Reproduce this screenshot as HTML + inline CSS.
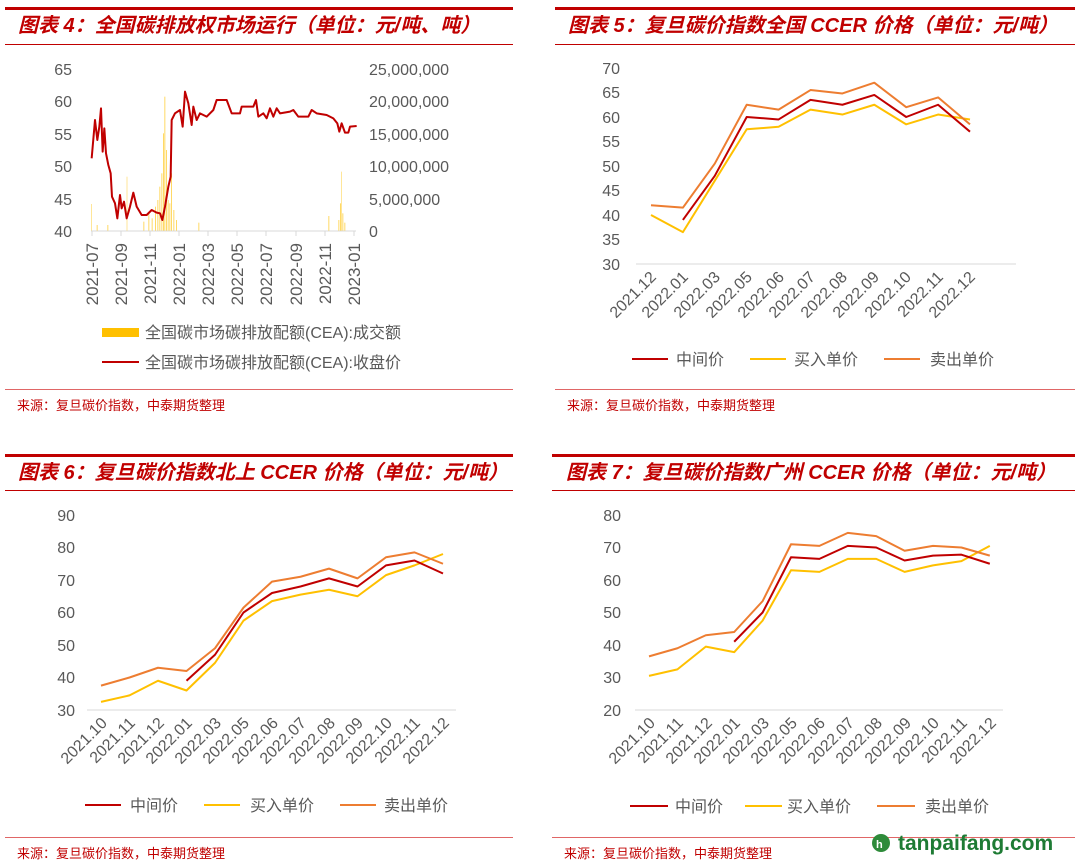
<!DOCTYPE html>
<html><head><meta charset="utf-8"><style>
body{margin:0;background:#fff;}
svg{display:block;font-family:"Liberation Sans","Noto Sans CJK SC",sans-serif;}
.t{font-weight:bold;font-style:italic;fill:#C00000;font-size:20px;}
.a{fill:#595959;font-size:16px;}
.l{fill:#595959;font-size:16px;}
.s{fill:#C00000;font-size:13px;}
.ln{fill:none;stroke-width:2;vector-effect:non-scaling-stroke;stroke-linejoin:round;}
</style></head><body>
<svg width="1080" height="862" viewBox="0 0 1080 862">
<!-- Panel 1 -->
<rect x="5" y="7" width="508" height="3" fill="#C00000"/>
<text x="18" y="32" class="t">图表 4：全国碳排放权市场运行（单位：元/吨、吨）</text>
<rect x="5" y="44" width="508" height="1" fill="#C00000"/>
<g class="a" text-anchor="end">
<text x="72" y="75">65</text><text x="72" y="107">60</text><text x="72" y="140">55</text><text x="72" y="172">50</text><text x="72" y="205">45</text><text x="72" y="237">40</text></g>
<g class="a"><text x="369" y="75">25,000,000</text><text x="369" y="107">20,000,000</text><text x="369" y="140">15,000,000</text><text x="369" y="172">10,000,000</text><text x="369" y="205">5,000,000</text><text x="369" y="237">0</text></g>
<line x1="91" y1="231" x2="356" y2="231" stroke="#d9d9d9" stroke-width="1"/>
<g stroke="#d9d9d9"><line x1="92" y1="231" x2="92" y2="236"/><line x1="121" y1="231" x2="121" y2="236"/><line x1="150" y1="231" x2="150" y2="236"/><line x1="179" y1="231" x2="179" y2="236"/><line x1="208" y1="231" x2="208" y2="236"/><line x1="237" y1="231" x2="237" y2="236"/><line x1="266" y1="231" x2="266" y2="236"/><line x1="296" y1="231" x2="296" y2="236"/><line x1="325" y1="231" x2="325" y2="236"/><line x1="354" y1="231" x2="354" y2="236"/></g>
<g class="a" text-anchor="end" style="font-size:17px">
<text transform="translate(98,243) rotate(-90)">2021-07</text>
<text transform="translate(127,243) rotate(-90)">2021-09</text>
<text transform="translate(156,243) rotate(-90)">2021-11</text>
<text transform="translate(185,243) rotate(-90)">2022-01</text>
<text transform="translate(214,243) rotate(-90)">2022-03</text>
<text transform="translate(243,243) rotate(-90)">2022-05</text>
<text transform="translate(272,243) rotate(-90)">2022-07</text>
<text transform="translate(302,243) rotate(-90)">2022-09</text>
<text transform="translate(331,243) rotate(-90)">2022-11</text>
<text transform="translate(360,243) rotate(-90)">2023-01</text></g>
<g transform="scale(0.33333)" fill="#FFD966">
<rect x="274" y="612" width="2" height="80"/><rect x="290" y="675" width="3" height="17"/><rect x="322" y="675" width="3" height="17"/><rect x="380" y="530" width="2" height="162"/><rect x="430" y="665" width="3" height="27"/>
<rect x="445" y="640" width="3" height="52"/><rect x="455" y="655" width="3" height="37"/><rect x="465" y="620" width="3" height="72"/><rect x="472" y="600" width="3" height="92"/><rect x="478" y="560" width="3" height="132"/>
<rect x="484" y="520" width="3" height="172"/><rect x="489" y="400" width="3" height="292"/><rect x="493" y="290" width="3" height="402"/><rect x="498" y="450" width="3" height="242"/><rect x="503" y="600" width="3" height="92"/>
<rect x="508" y="610" width="3" height="82"/><rect x="513" y="520" width="3" height="172"/><rect x="520" y="630" width="3" height="62"/><rect x="528" y="660" width="3" height="32"/><rect x="595" y="668" width="3" height="24"/>
<rect x="985" y="648" width="3" height="44"/><rect x="1015" y="660" width="3" height="32"/><rect x="1020" y="610" width="3" height="82"/><rect x="1023" y="515" width="2" height="177"/><rect x="1027" y="640" width="3" height="52"/><rect x="1033" y="668" width="3" height="24"/>
<polyline fill="none" stroke="#C00000" stroke-width="6" stroke-linejoin="round" points="275,475 285,360 292,420 298,380 303,325 308,455 313,385 318,460 325,495 332,520 336,590 345,610 352,655 360,585 365,625 372,605 380,655 390,620 400,578 410,620 425,645 440,645 455,630 470,638 480,640 487,660 495,620 505,560 512,530 515,360 525,340 540,330 548,380 555,275 565,310 575,375 580,320 590,360 600,340 620,350 640,330 650,300 680,300 695,340 720,340 725,320 760,320 768,300 775,350 790,340 800,355 810,325 820,350 830,325 840,340 870,335 880,330 895,350 925,350 935,330 950,340 980,345 1000,355 1012,370 1018,395 1025,370 1035,398 1045,398 1050,380 1070,378"/>
</g>
<rect x="102" y="328" width="37" height="9" fill="#FFC000"/>
<text x="145" y="338" class="l">全国碳市场碳排放配额(CEA):成交额</text>
<line x1="102" y1="362" x2="139" y2="362" stroke="#C00000" stroke-width="2"/>
<text x="145" y="368" class="l">全国碳市场碳排放配额(CEA):收盘价</text>
<rect x="5" y="389" width="508" height="1" fill="#E06666"/>
<text x="17" y="410" class="s">来源：复旦碳价指数，中泰期货整理</text>

<!-- Panel 2 -->
<rect x="555" y="7" width="520" height="3" fill="#C00000"/>
<text x="568" y="32" class="t">图表 5：复旦碳价指数全国 CCER 价格（单位：元/吨）</text>
<rect x="555" y="44" width="520" height="1" fill="#C00000"/>
<g class="a" text-anchor="end">
<text x="620" y="74">70</text><text x="620" y="98">65</text><text x="620" y="123">60</text><text x="620" y="147">55</text><text x="620" y="172">50</text><text x="620" y="196">45</text><text x="620" y="221">40</text><text x="620" y="245">35</text><text x="620" y="270">30</text></g>
<line x1="636" y1="264" x2="1016" y2="264" stroke="#d9d9d9"/>
<g class="a" text-anchor="end">
<text transform="translate(657,278) rotate(-45)">2021.12</text>
<text transform="translate(689,278) rotate(-45)">2022.01</text>
<text transform="translate(721,278) rotate(-45)">2022.03</text>
<text transform="translate(753,278) rotate(-45)">2022.05</text>
<text transform="translate(785,278) rotate(-45)">2022.06</text>
<text transform="translate(816,278) rotate(-45)">2022.07</text>
<text transform="translate(848,278) rotate(-45)">2022.08</text>
<text transform="translate(880,278) rotate(-45)">2022.09</text>
<text transform="translate(912,278) rotate(-45)">2022.10</text>
<text transform="translate(944,278) rotate(-45)">2022.11</text>
<text transform="translate(976,278) rotate(-45)">2022.12</text></g>
<g transform="translate(651,264) scale(31.9,-4.9)">
<polyline class="ln" stroke="#FFC000" points="0,10 1,6.5 2,17 3,27.5 4,28 5,31.5 6,30.5 7,32.5 8,28.5 9,30.5 10,29.5"/>
<polyline class="ln" stroke="#ED7D31" points="0,12 1,11.5 2,20.5 3,32.5 4,31.5 5,35.5 6,34.8 7,37 8,32 9,34 10,28.5"/>
<polyline class="ln" stroke="#C00000" points="1,9 2,18 3,30 4,29.5 5,33.5 6,32.5 7,34.5 8,30 9,32.5 10,27"/>
</g>
<line x1="632" y1="359" x2="668" y2="359" stroke="#C00000" stroke-width="2"/><text x="676" y="365" class="l">中间价</text>
<line x1="750" y1="359" x2="786" y2="359" stroke="#FFC000" stroke-width="2"/><text x="794" y="365" class="l">买入单价</text>
<line x1="884" y1="359" x2="920" y2="359" stroke="#ED7D31" stroke-width="2"/><text x="930" y="365" class="l">卖出单价</text>
<rect x="555" y="389" width="520" height="1" fill="#E06666"/>
<text x="567" y="410" class="s">来源：复旦碳价指数，中泰期货整理</text>

<!-- Panel 3 -->
<rect x="5" y="454" width="508" height="3" fill="#C00000"/>
<text x="18" y="479" class="t">图表 6：复旦碳价指数北上 CCER 价格（单位：元/吨）</text>
<rect x="5" y="490" width="508" height="1" fill="#C00000"/>
<g class="a" text-anchor="end">
<text x="75" y="521">90</text><text x="75" y="553">80</text><text x="75" y="586">70</text><text x="75" y="618">60</text><text x="75" y="651">50</text><text x="75" y="683">40</text><text x="75" y="716">30</text></g>
<line x1="87" y1="710" x2="456" y2="710" stroke="#d9d9d9"/>
<g class="a" text-anchor="end">
<text transform="translate(108,724) rotate(-45)">2021.10</text>
<text transform="translate(136,724) rotate(-45)">2021.11</text>
<text transform="translate(165,724) rotate(-45)">2021.12</text>
<text transform="translate(193,724) rotate(-45)">2022.01</text>
<text transform="translate(222,724) rotate(-45)">2022.03</text>
<text transform="translate(250,724) rotate(-45)">2022.05</text>
<text transform="translate(279,724) rotate(-45)">2022.06</text>
<text transform="translate(307,724) rotate(-45)">2022.07</text>
<text transform="translate(336,724) rotate(-45)">2022.08</text>
<text transform="translate(364,724) rotate(-45)">2022.09</text>
<text transform="translate(393,724) rotate(-45)">2022.10</text>
<text transform="translate(421,724) rotate(-45)">2022.11</text>
<text transform="translate(450,724) rotate(-45)">2022.12</text></g>
<g transform="translate(101,710) scale(28.5,-3.25)">
<polyline class="ln" stroke="#FFC000" points="0,2.5 1,4.5 2,9 3,6 4,14.5 5,27.5 6,33.5 7,35.5 8,37 9,35 10,41.5 11,44.5 12,48"/>
<polyline class="ln" stroke="#ED7D31" points="0,7.5 1,10 2,13 3,12 4,19 5,31.5 6,39.5 7,41 8,43.5 9,40.5 10,47 11,48.5 12,45"/>
<polyline class="ln" stroke="#C00000" points="3,9 4,17 5,30 6,36 7,38 8,40.5 9,38 10,44.5 11,46 12,42"/>
</g>
<line x1="85" y1="805" x2="121" y2="805" stroke="#C00000" stroke-width="2"/><text x="130" y="811" class="l">中间价</text>
<line x1="204" y1="805" x2="240" y2="805" stroke="#FFC000" stroke-width="2"/><text x="250" y="811" class="l">买入单价</text>
<line x1="340" y1="805" x2="376" y2="805" stroke="#ED7D31" stroke-width="2"/><text x="384" y="811" class="l">卖出单价</text>
<rect x="5" y="837" width="508" height="1" fill="#E06666"/>
<text x="17" y="858" class="s">来源：复旦碳价指数，中泰期货整理</text>

<!-- Panel 4 -->
<rect x="552" y="454" width="523" height="3" fill="#C00000"/>
<text x="566" y="479" class="t">图表 7：复旦碳价指数广州 CCER 价格（单位：元/吨）</text>
<rect x="552" y="490" width="523" height="1" fill="#C00000"/>
<g class="a" text-anchor="end">
<text x="621" y="521">80</text><text x="621" y="553">70</text><text x="621" y="586">60</text><text x="621" y="618">50</text><text x="621" y="651">40</text><text x="621" y="683">30</text><text x="621" y="716">20</text></g>
<line x1="635" y1="710" x2="1003" y2="710" stroke="#d9d9d9"/>
<g class="a" text-anchor="end">
<text transform="translate(656,724) rotate(-45)">2021.10</text>
<text transform="translate(684,724) rotate(-45)">2021.11</text>
<text transform="translate(713,724) rotate(-45)">2021.12</text>
<text transform="translate(741,724) rotate(-45)">2022.01</text>
<text transform="translate(770,724) rotate(-45)">2022.03</text>
<text transform="translate(798,724) rotate(-45)">2022.05</text>
<text transform="translate(826,724) rotate(-45)">2022.06</text>
<text transform="translate(855,724) rotate(-45)">2022.07</text>
<text transform="translate(883,724) rotate(-45)">2022.08</text>
<text transform="translate(912,724) rotate(-45)">2022.09</text>
<text transform="translate(940,724) rotate(-45)">2022.10</text>
<text transform="translate(968,724) rotate(-45)">2022.11</text>
<text transform="translate(997,724) rotate(-45)">2022.12</text></g>
<g transform="translate(649,710) scale(28.4,-3.25)">
<polyline class="ln" stroke="#FFC000" points="0,10.5 1,12.5 2,19.5 3,17.8 4,27.5 5,43 6,42.5 7,46.5 8,46.5 9,42.5 10,44.5 11,45.8 12,50.5"/>
<polyline class="ln" stroke="#ED7D31" points="0,16.5 1,19 2,23 3,24 4,33.5 5,51 6,50.5 7,54.5 8,53.5 9,49 10,50.5 11,50 12,47.5"/>
<polyline class="ln" stroke="#C00000" points="3,21 4,30 5,47 6,46.5 7,50.5 8,50 9,46 10,47.5 11,47.8 12,45"/>
</g>
<line x1="630" y1="806" x2="668" y2="806" stroke="#C00000" stroke-width="2"/><text x="675" y="812" class="l">中间价</text>
<line x1="745" y1="806" x2="782" y2="806" stroke="#FFC000" stroke-width="2"/><text x="787" y="812" class="l">买入单价</text>
<line x1="877" y1="806" x2="915" y2="806" stroke="#ED7D31" stroke-width="2"/><text x="925" y="812" class="l">卖出单价</text>
<rect x="552" y="837" width="523" height="1" fill="#E06666"/>
<text x="564" y="858" class="s">来源：复旦碳价指数，中泰期货整理</text>
<circle cx="881" cy="843" r="9" fill="#2E8B3A"/>
<text x="876" y="848" font-size="11" font-weight="bold" fill="#fff">h</text>
<text x="898" y="850" font-size="21" font-weight="bold" fill="#1E7B34">tanpaifang.com</text>
</svg>
</body></html>
